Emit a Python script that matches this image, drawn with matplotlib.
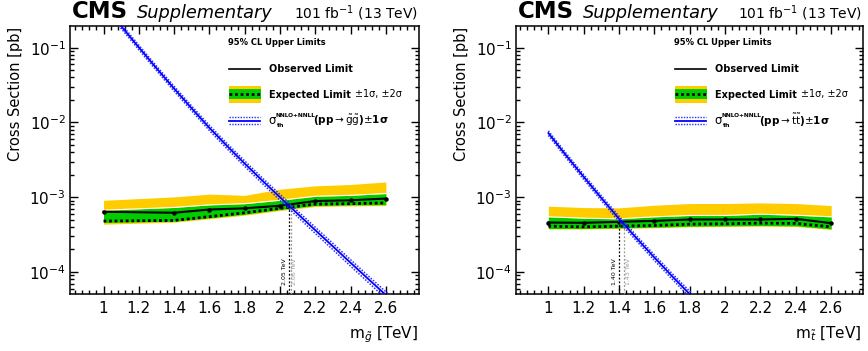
import matplotlib
matplotlib.use("Agg")
import matplotlib.pyplot as plt
from matplotlib.ticker import MultipleLocator, FuncFormatter, LogLocator, NullFormatter
from matplotlib.lines import Line2D
from matplotlib.patches import Rectangle

# ---------------- data ----------------
# gluino panel
gl_mass = [1.0, 1.4, 1.6, 1.8, 2.0, 2.2, 2.4, 2.6]
gl_obs = [6.4e-4, 6.2e-4, 6.85e-4, 7.1e-4, 7.7e-4, 8.9e-4, 9.1e-4, 9.6e-4]
gl_exp = [4.8e-4, 4.9e-4, 5.5e-4, 6.2e-4, 7.1e-4, 8.1e-4, 8.2e-4, 8.4e-4]
gl_p1 = [6.7e-4, 7.3e-4, 7.9e-4, 8.2e-4, 9.1e-4, 1.03e-3, 1.06e-3, 1.12e-3]
gl_m1 = [4.6e-4, 4.78e-4, 5.3e-4, 5.93e-4, 6.85e-4, 7.75e-4, 7.9e-4, 7.98e-4]
gl_p2 = [9.1e-4, 1.01e-3, 1.1e-3, 1.06e-3, 1.28e-3, 1.42e-3, 1.48e-3, 1.6e-3]
gl_m2 = [4.36e-4, 4.64e-4, 5.14e-4, 5.75e-4, 6.64e-4, 7.51e-4, 7.66e-4, 7.74e-4]
gl_th_mass = [1.0, 1.1, 1.2, 1.3, 1.4, 1.5, 1.6, 1.7, 1.8, 1.9, 2.0,
              2.1, 2.2, 2.3, 2.4, 2.5, 2.6, 2.7]
gl_th = [0.385, 0.194, 0.101, 0.0532, 0.0284, 0.0154, 0.00847, 0.00485,
         0.00282, 0.00167, 0.00100, 6.01e-4, 3.63e-4, 2.20e-4, 1.33e-4,
         8.09e-5, 4.93e-5, 3.0e-5]
gl_th_unc = [0.07, 0.07, 0.07, 0.07, 0.075, 0.075, 0.08, 0.08, 0.085, 0.085,
             0.09, 0.09, 0.095, 0.095, 0.10, 0.10, 0.105, 0.105]
gl_excl_obs, gl_excl_exp, gl_cross = 2.05, 2.06, 7.7e-4

# stop panel
st_mass = [1.0, 1.2, 1.4, 1.6, 1.8, 2.0, 2.2, 2.4, 2.6]
st_obs = [4.59e-4, 4.55e-4, 4.69e-4, 4.83e-4, 5.04e-4, 5.04e-4, 5.04e-4, 5.14e-4, 4.5e-4]
st_exp = [4.1e-4, 4.02e-4, 4.1e-4, 4.19e-4, 4.37e-4, 4.41e-4, 4.5e-4, 4.46e-4, 4.02e-4]
st_p1 = [5.47e-4, 5.25e-4, 5.14e-4, 5.47e-4, 5.7e-4, 5.7e-4, 5.93e-4, 5.75e-4, 5.47e-4]
st_m1 = [3.82e-4, 3.82e-4, 3.9e-4, 3.98e-4, 4.1e-4, 4.15e-4, 4.19e-4, 4.15e-4, 3.78e-4]
st_p2 = [7.59e-4, 7.28e-4, 7.21e-4, 7.82e-4, 8.24e-4, 8.24e-4, 8.4e-4, 8.24e-4, 7.74e-4]
st_m2 = [3.75e-4, 3.75e-4, 3.82e-4, 3.9e-4, 4.02e-4, 4.06e-4, 4.1e-4, 4.06e-4, 3.7e-4]
st_th_mass = [1.0, 1.1, 1.2, 1.3, 1.4, 1.5, 1.6, 1.7, 1.8, 1.9]
st_th = [7.21e-3, 3.63e-3, 1.87e-3, 9.73e-4, 5.15e-4, 2.81e-4, 1.56e-4,
         8.79e-5, 5.06e-5, 2.9e-5]
st_th_unc = [0.07, 0.07, 0.075, 0.075, 0.08, 0.08, 0.085, 0.085, 0.09, 0.09]
st_excl_obs, st_excl_exp, st_cross = 1.40, 1.43, 4.93e-4

# ---------------- style ----------------
plt.rcParams['font.family'] = ['DejaVu Sans']
plt.rcParams['mathtext.fontset'] = 'dejavusans'

W, H = 868, 351
fig = plt.figure(figsize=(W / 100, H / 100), dpi=100)


def fx(x):
    return x / W


def fy(y):
    return 1 - y / H


YELLOW = '#ffcc00'
GREEN = '#00cc00'
BLUE = '#0000ff'
BLUE_D = '#2a2aff'

panels = [
    dict(x0=70, x1=419, xlim=(0.810, 2.788), dx=0, rlab=418.3,
         mass=gl_mass, obs=gl_obs, exp=gl_exp, p1=gl_p1, m1=gl_m1, p2=gl_p2, m2=gl_m2,
         thm=gl_th_mass, th=gl_th, thu=gl_th_unc,
         eo=gl_excl_obs, ee=gl_excl_exp, cross=gl_cross,
         xlabel=r"m$_{\tilde{g}}$ [TeV]",
         proc=r"(pp$\rightarrow\tilde{\mathrm{g}}\tilde{\mathrm{g}}$)$\pm$1σ"),
    dict(x0=516, x1=863, xlim=(0.817, 2.780), dx=446, rlab=861.7,
         mass=st_mass, obs=st_obs, exp=st_exp, p1=st_p1, m1=st_m1, p2=st_p2, m2=st_m2,
         thm=st_th_mass, th=st_th, thu=st_th_unc,
         eo=st_excl_obs, ee=st_excl_exp, cross=st_cross,
         xlabel=r"m$_{\tilde{t}}$ [TeV]",
         proc=r"(pp$\rightarrow\tilde{\mathrm{t}}\tilde{\mathrm{t}}$)$\pm$1σ"),
]

Y_TOP, Y_BOT = 26, 294
YLIM = (5.08e-5, 0.195)

for P in panels:
    ax = fig.add_axes([fx(P['x0']), fy(Y_BOT), (P['x1'] - P['x0']) / W, (Y_BOT - Y_TOP) / H])
    ax.set_yscale('log')
    ax.set_xlim(*P['xlim'])
    ax.set_ylim(*YLIM)

    ax.fill_between(P['mass'], P['m2'], P['p2'], color=YELLOW, lw=0, zorder=1)
    ax.fill_between(P['mass'], P['m1'], P['p1'], color=GREEN, lw=0, zorder=2)
    ax.plot(P['mass'], P['p1'], color='white', lw=0.8, zorder=2.5)
    ax.plot(P['mass'], P['exp'], color='black', lw=2.0, ls=(0, (1, 1)), zorder=3)
    ax.plot(P['mass'], P['obs'], color='black', lw=1.5, marker='o', ms=2.2, zorder=4)

    th_up = [v * (1 + u) for v, u in zip(P['th'], P['thu'])]
    th_dn = [v * (1 - u) for v, u in zip(P['th'], P['thu'])]
    ax.plot(P['thm'], th_up, color=BLUE_D, lw=1.1, ls=(0, (1, 1)), zorder=5)
    ax.plot(P['thm'], th_dn, color=BLUE_D, lw=1.1, ls=(0, (1, 1)), zorder=5)
    ax.plot(P['thm'], P['th'], color=BLUE, lw=1.3, zorder=6)

    # exclusion markers
    ax.plot([P['eo'], P['eo']], [YLIM[0], P['cross']], color='black', lw=0.9,
            ls=(0, (1.5, 1.5)), zorder=3.5)
    ax.plot([P['ee'], P['ee']], [YLIM[0], P['cross']], color='#999999', lw=0.9,
            ls=(0, (1.5, 1.5)), zorder=3.5)
    ax.text(P['eo'] - 0.012, 6.7e-5, f"{P['eo']:.2f} TeV", rotation=90, fontsize=4.5,
            ha='right', va='bottom', color='black')
    ax.text(P['ee'] + 0.008, 6.7e-5, f"{P['ee']:.2f} TeV", rotation=90, fontsize=4.5,
            ha='left', va='bottom', color='#999999')

    # ticks
    ax.xaxis.set_major_locator(MultipleLocator(0.2))
    ax.xaxis.set_minor_locator(MultipleLocator(0.04))
    ax.xaxis.set_major_formatter(FuncFormatter(lambda v, p: f"{v:g}" if 0.95 < v < 2.65 else ""))
    ax.yaxis.set_major_locator(LogLocator(base=10, numticks=10))
    ax.yaxis.set_minor_locator(LogLocator(base=10, subs=range(2, 10), numticks=20))
    ax.yaxis.set_minor_formatter(NullFormatter())
    ax.tick_params(which='both', direction='in', top=True, right=True, width=1.0)
    ax.tick_params(which='major', length=5.5, labelsize=11)
    ax.tick_params(which='minor', length=2.7)
    ax.tick_params(axis='x', which='major', pad=5)
    ax.tick_params(axis='y', which='major', pad=3)
    for s in ax.spines.values():
        s.set_linewidth(1.1)

    dx = P['dx']
    # header
    fig.text(fx(71.7 + dx), fy(18.3), "CMS", fontsize=16.5, fontweight='bold',
             ha='left', va='baseline')
    fig.text(fx(136.7 + dx), fy(18.3), "Supplementary", fontsize=12.8, style='italic',
             ha='left', va='baseline')
    fig.text(fx(P['rlab']), fy(18.3), r"101 fb$^{-1}$ (13 TeV)", fontsize=10,
             ha='right', va='baseline')

    # axis labels
    fig.text(fx(15.8 + dx), fy(27), "Cross Section [pb]", rotation=90, fontsize=10.5,
             ha='center', va='top')
    fig.text(fx(P['rlab']), fy(338.3), P['xlabel'], fontsize=11, ha='right', va='baseline')

    # legend
    fig.text(fx(227.7 + dx), fy(42.7), "95% CL Upper Limits", fontsize=6, fontweight='bold',
             ha='left', va='center')
    fig.add_artist(Line2D([fx(229.3 + dx), fx(260 + dx)], [fy(69.3)] * 2, color='black', lw=1.2))
    fig.text(fx(269.3 + dx), fy(69.5), "Observed Limit", fontsize=7, fontweight='bold',
             ha='left', va='center')
    fig.add_artist(Rectangle((fx(229.3 + dx), fy(102.7)), 31.4 / W, 16.7 / H,
                             transform=fig.transFigure, facecolor=YELLOW, lw=0))
    fig.add_artist(Rectangle((fx(229.3 + dx), fy(99.3)), 31.4 / W, 10 / H,
                             transform=fig.transFigure, facecolor=GREEN, lw=0))
    fig.add_artist(Line2D([fx(229.3 + dx), fx(260.7 + dx)], [fy(94.3)] * 2, color='black',
                          lw=2.0, ls=(0, (1, 1))))
    fig.text(fx(269.3 + dx), fy(94.5), "Expected Limit", fontsize=7, fontweight='bold',
             ha='left', va='center')
    fig.text(fx(355 + dx), fy(94.5), "±1σ, ±2σ", fontsize=7,
             ha='left', va='center')
    fig.add_artist(Line2D([fx(229.3 + dx), fx(260 + dx)], [fy(120.5)] * 2, color=BLUE, lw=1.3))
    for yy in (117.3, 123.7):
        fig.add_artist(Line2D([fx(229.3 + dx), fx(260 + dx)], [fy(yy)] * 2, color=BLUE_D,
                              lw=1.0, ls=(0, (1, 1))))
    fig.text(fx(268.3 + dx), fy(120.5), "σ", fontsize=8.5, ha='left', va='center')
    fig.text(fx(276 + dx), fy(115.3), "NNLO+NNLL", fontsize=4.2, fontweight='bold',
             ha='left', va='center')
    fig.text(fx(276.5 + dx), fy(125.8), "th", fontsize=4.5, fontweight='bold',
             ha='left', va='center')
    fig.text(fx(313.3 + dx), fy(120.5), P['proc'], fontsize=7.5, fontweight='bold',
             ha='left', va='center')

fig.savefig("out.png", dpi=100)
